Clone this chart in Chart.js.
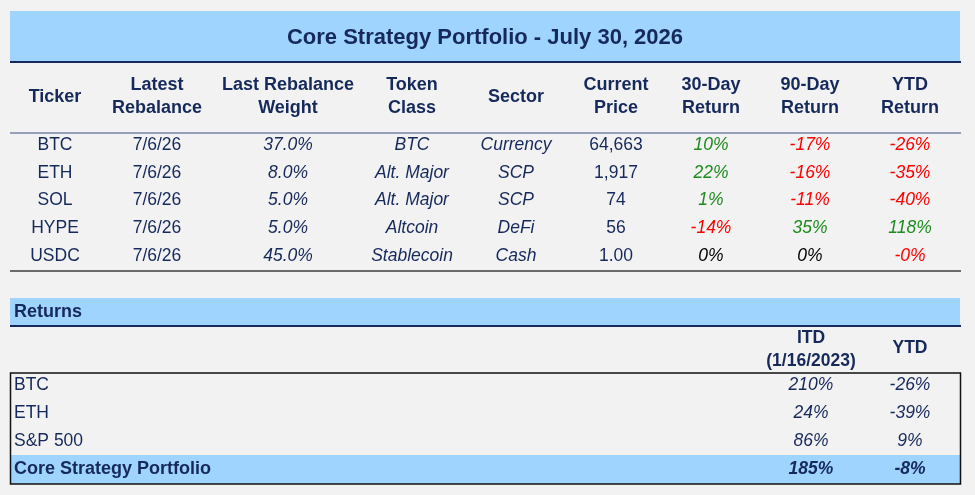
<!DOCTYPE html>
<html>
<head>
<meta charset="utf-8">
<title>Core Strategy Portfolio</title>
<script src="https://cdn.jsdelivr.net/npm/chart.js@4.4.1/dist/chart.umd.min.js"></script>
<style>
    html, body { margin: 0; padding: 0; background: #f2f2f2; }
    #wrap { width: 975px; height: 495px; position: relative; }
</style>
</head>
<body>
<div id="wrap"><canvas class="myChart"></canvas></div>
<script>
// ---- data ----
const title = 'Core Strategy Portfolio - July 30, 2026';
const columnHeaders = [
    ['Ticker'], ['Latest', 'Rebalance'], ['Last Rebalance', 'Weight'], ['Token', 'Class'],
    ['Sector'], ['Current', 'Price'], ['30-Day', 'Return'], ['90-Day', 'Return'], ['YTD', 'Return']
];
const tickers = ['BTC', 'ETH', 'SOL', 'HYPE', 'USDC'];
const rebalanceDates = ['7/6/26', '7/6/26', '7/6/26', '7/6/26', '7/6/26'];
const weights = [37.0, 8.0, 5.0, 5.0, 45.0];
const tokenClasses = ['BTC', 'Alt. Major', 'Alt. Major', 'Altcoin', 'Stablecoin'];
const sectors = ['Currency', 'SCP', 'SCP', 'DeFi', 'Cash'];
const prices = [64663, 1917, 74, 56, 1.00];
const return30 = [10, 22, 1, -14, 0];
const return90 = [-17, -16, -11, 35, 0];
const returnYtd = [-26, -35, -40, 118, -0.2];

const returnsTitle = 'Returns';
const returnsHeaders = [['ITD', '(1/16/2023)'], ['YTD']];
const benchmarks = ['BTC', 'ETH', 'S&P 500', 'Core Strategy Portfolio'];
const returnsItd = [210, 24, 86, 185];
const returnsYtd = [-26, -39, 9, -8];

// ---- layout / styles ----
const NAVY = '#15295b';
const BAND = '#9fd4ff';
const FONT = '"Liberation Sans", Arial, sans-serif';

const layout = {
    left: 10,
    right: 960,
    colWidths: [90, 114, 148, 100, 108, 92, 98, 100, 100],
    title: { top: 11, bottom: 61, y: 37.5 },
    header: { single: 97, lines: [85, 108], rule: 133 },
    rows: { first: 145, step: 27.8, rule: 271 },
    returnsBand: { top: 298, bottom: 325, y: 312 },
    returnsHeader: { single: 348, lines: [338, 361] },
    returnsBox: { top: 373, bottom: 484, first: 385, step: 28 },
    returnsCols: [811, 910],
    labelX: 14
};

function colCenters() {
    let x = layout.left;
    return layout.colWidths.map(w => {
        const c = x + w / 2;
        x += w;
        return c;
    });
}

function pct0(v) {
    return v.toFixed(0) + '%';
}

function pct1(v) {
    return v.toFixed(1) + '%';
}

function price(v) {
    if (v < 10) {
        return v.toFixed(2);
    }
    return v.toLocaleString('en-US', { maximumFractionDigits: 0 });
}

function signColor(v) {
    if (v > 0) return '#1f8b1f';
    if (v < 0) return '#ff0000';
    return '#000000';
}

function font(size, bold = false, italic = false) {
    return (italic ? 'italic ' : '') + (bold ? 'bold ' : '') + size + 'px ' + FONT;
}

// one dataset per text column; each point is a cell
function cellSet(xs, ys, texts, opts) {
    return {
        type: 'scatter',
        data: texts.map((t, i) => ({ x: Array.isArray(xs) ? xs[i] : xs, y: ys[i] })),
        texts,
        font: opts.font,
        colors: opts.colors || texts.map(() => NAVY),
        fonts: opts.fonts,
        align: opts.align || 'center',
        pointRadius: 0,
        pointHoverRadius: 0
    };
}

function buildDatasets() {
    const cx = colCenters();
    const mid = (layout.left + layout.right) / 2;
    const rowY = tickers.map((t, i) => layout.rows.first + i * layout.rows.step);
    const sets = [];

    sets.push(cellSet(mid, [layout.title.y], [title], { font: font(22, true) }));

    columnHeaders.forEach((lines, c) => {
        const ys = lines.length === 1 ? [layout.header.single] : layout.header.lines;
        sets.push(cellSet(cx[c], ys, lines, { font: font(18, true) }));
    });

    const body = [
        { texts: tickers, font: font(17.5) },
        { texts: rebalanceDates, font: font(17.5) },
        { texts: weights.map(pct1), font: font(17.5, false, true) },
        { texts: tokenClasses, font: font(17.5, false, true) },
        { texts: sectors, font: font(17.5, false, true) },
        { texts: prices.map(price), font: font(17.5) },
        { texts: return30.map(pct0), font: font(17.5, false, true), colors: return30.map(signColor) },
        { texts: return90.map(pct0), font: font(17.5, false, true), colors: return90.map(signColor) },
        { texts: returnYtd.map(pct0), font: font(17.5, false, true), colors: returnYtd.map(signColor) }
    ];
    body.forEach((col, c) => sets.push(cellSet(cx[c], rowY, col.texts, col)));

    sets.push(cellSet(layout.labelX, [layout.returnsBand.y], [returnsTitle], { font: font(18, true), align: 'left' }));

    returnsHeaders.forEach((lines, c) => {
        const ys = lines.length === 1 ? [layout.returnsHeader.single] : layout.returnsHeader.lines;
        sets.push(cellSet(layout.returnsCols[c], ys, lines, { font: font(17.5, true) }));
    });

    const retY = benchmarks.map((b, i) => layout.returnsBox.first + i * layout.returnsBox.step);
    const last = benchmarks.length - 1;
    sets.push(cellSet(layout.labelX, retY, benchmarks, {
        align: 'left',
        fonts: benchmarks.map((b, i) => i === last ? font(18, true) : font(17.5))
    }));
    [returnsItd, returnsYtd].forEach((vals, c) => {
        sets.push(cellSet(layout.returnsCols[c], retY, vals.map(pct0), {
            fonts: vals.map((v, i) => font(17.5, i === last, true))
        }));
    });

    return sets;
}

const tablePlugin = {
    id: 'table_cells',
    beforeDatasetsDraw: (chart) => {
        const { ctx } = chart;
        const { x, y } = chart.scales;
        const L = x.getPixelForValue(layout.left);
        const R = x.getPixelForValue(layout.right);

        const band = (top, bottom) => {
            const t = y.getPixelForValue(top);
            ctx.fillStyle = BAND;
            ctx.fillRect(L, t, R - L, y.getPixelForValue(bottom) - t);
        };
        const rule = (at, color, width) => {
            const p = y.getPixelForValue(at);
            ctx.strokeStyle = color;
            ctx.lineWidth = width;
            ctx.beginPath();
            ctx.moveTo(L, p);
            ctx.lineTo(R + 1, p);
            ctx.stroke();
        };

        ctx.save();
        band(layout.title.top, layout.title.bottom);
        rule(layout.title.bottom + 1, NAVY, 2);
        rule(layout.header.rule, '#3a4f80', 1.2);
        rule(layout.rows.rule, '#6b6b6b', 2);

        band(layout.returnsBand.top, layout.returnsBand.bottom);
        rule(layout.returnsBand.bottom + 1, NAVY, 2);

        const box = layout.returnsBox;
        const lastTop = box.first + (benchmarks.length - 1) * box.step - box.step / 2;
        band(lastTop, box.bottom);
        ctx.strokeStyle = '#111111';
        ctx.lineWidth = 1.5;
        const bt = y.getPixelForValue(box.top);
        ctx.strokeRect(L + 0.5, bt, R - L, y.getPixelForValue(box.bottom) - bt);
        ctx.restore();
    },
    afterDatasetsDraw: (chart) => {
        const { ctx } = chart;
        ctx.save();
        ctx.textBaseline = 'middle';
        chart.data.datasets.forEach((ds, i) => {
            const meta = chart.getDatasetMeta(i);
            ctx.textAlign = ds.align;
            meta.data.forEach((pt, j) => {
                ctx.font = ds.fonts ? ds.fonts[j] : ds.font;
                ctx.fillStyle = ds.colors[j];
                ctx.fillText(ds.texts[j], pt.x, pt.y);
            });
        });
        ctx.restore();
    }
};

function createTable(selector = 'myChart') {
    const ctx = document.querySelector('.' + selector).getContext('2d');
    return new Chart(ctx, {
        type: 'scatter',
        data: { datasets: buildDatasets() },
        options: {
            responsive: true,
            maintainAspectRatio: false,
            animation: false,
            events: [],
            layout: { padding: 0 },
            plugins: {
                legend: { display: false },
                tooltip: { enabled: false }
            },
            scales: {
                x: { type: 'linear', min: 0, max: 975, display: false },
                y: { type: 'linear', min: 0, max: 495, reverse: true, display: false }
            }
        },
        plugins: [tablePlugin]
    });
}

createTable();
</script>
</body>
</html>
